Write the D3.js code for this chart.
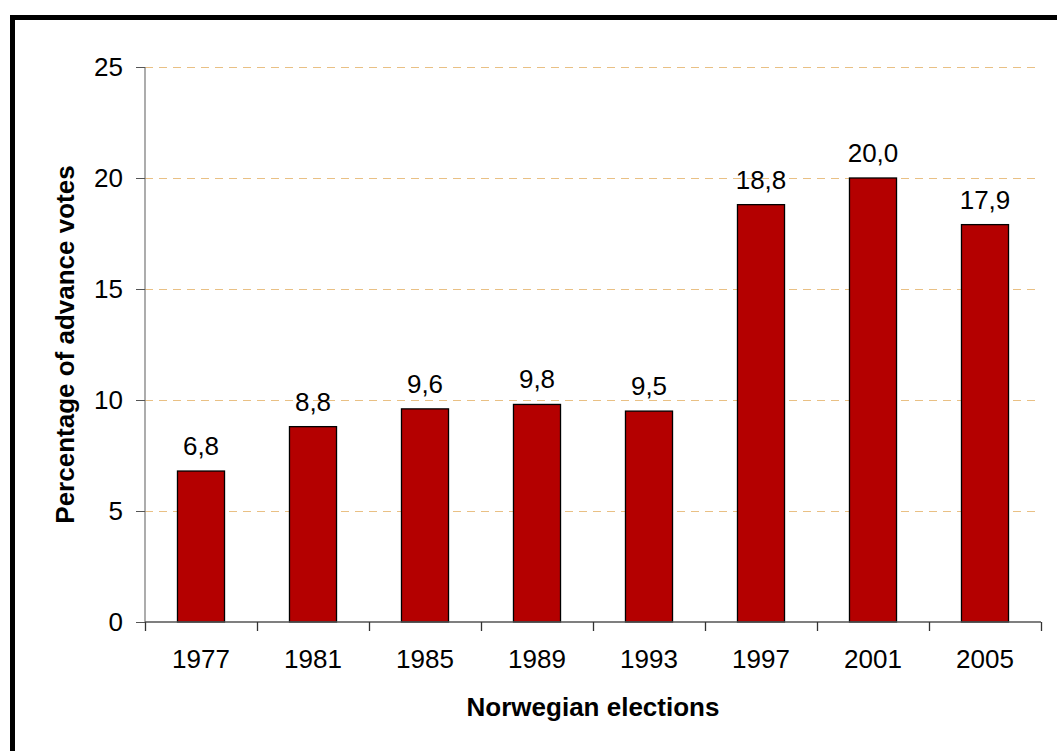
<!DOCTYPE html>
<html><head><meta charset="utf-8">
<script src="https://cdn.jsdelivr.net/npm/d3@7"></script>
<style>html,body{margin:0;padding:0;background:#fff;overflow:hidden}</style>
</head><body>
<script>
const categories = ["1977","1981","1985","1989","1993","1997","2001","2005"];
const values = [6.8, 8.8, 9.6, 9.8, 9.5, 18.8, 20.0, 17.9];
const yTicks = [0, 5, 10, 15, 20, 25];
const xTitle = "Norwegian elections";
const yTitle = "Percentage of advance votes";

const W = 1057, H = 751;
const svg = d3.select("body").append("svg").attr("width", W).attr("height", H);
const font = "'Liberation Sans', Arial, sans-serif";

// outer frame (cropped at right/bottom)
svg.append("rect").attr("x", 12.5).attr("y", 17.5).attr("width", 1100).attr("height", 800)
  .attr("fill", "none").attr("stroke", "#000").attr("stroke-width", 5);

const pL = 145, pR = 1041, pT = 67, pB = 622;
const x = d3.scaleBand().domain(categories).range([pL, pR]).padding(0);
const y = d3.scaleLinear().domain([0, 25]).range([pB, pT]);

// gridlines
svg.append("g").selectAll("line").data(yTicks.filter(d => d > 0)).join("line")
  .attr("x1", pL).attr("x2", pR)
  .attr("y1", d => Math.round(y(d)) + 0.5).attr("y2", d => Math.round(y(d)) + 0.5)
  .attr("stroke", "#e9c084").attr("stroke-width", 1).attr("stroke-dasharray", "8,6");

// bars
const bw = x.bandwidth() * 0.42;
svg.append("g").selectAll("rect").data(values).join("rect")
  .attr("x", (d, i) => x(categories[i]) + (x.bandwidth() - bw) / 2)
  .attr("y", d => y(d))
  .attr("width", bw)
  .attr("height", d => y(0) - y(d))
  .attr("fill", "#b40000").attr("stroke", "#000").attr("stroke-width", 1.3);

// value labels
svg.append("g").selectAll("text").data(values).join("text")
  .attr("x", (d, i) => x(categories[i]) + x.bandwidth() / 2)
  .attr("y", d => y(d) - 16)
  .attr("text-anchor", "middle")
  .style("font-family", font).style("font-size", "26px").attr("fill", "#000")
  .text(d => d.toFixed(1).replace(".", ","));

// y axis
const yAxis = d3.axisLeft(y).tickValues(yTicks).tickSize(9).tickPadding(13).tickFormat(d3.format("d"));
const gy = svg.append("g").attr("transform", `translate(${pL},0)`).call(yAxis);
gy.select(".domain").attr("stroke", "#808080").attr("stroke-width", 1.3).attr("d", `M0,${pT}V${pB}`);
gy.selectAll(".tick line").attr("stroke", "#555");
gy.selectAll(".tick text").style("font-family", font).style("font-size", "26px").attr("fill", "#000");

// x axis
const xAxis = d3.axisBottom(x).tickSize(0).tickPadding(28);
const gx = svg.append("g").attr("transform", `translate(0,${pB})`).call(xAxis);
gx.select(".domain").attr("stroke", "#555").attr("stroke-width", 1.3).attr("d", `M${pL},0H${pR}`);
gx.selectAll(".tick text").style("font-family", font).style("font-size", "26px").attr("fill", "#000").attr("dy", "0.71em");
// category boundary ticks
const bounds = categories.map(c => x(c)).concat([pR]);
gx.append("g").selectAll("line").data(bounds).join("line")
  .attr("x1", d => Math.round(d) + 0.5).attr("x2", d => Math.round(d) + 0.5)
  .attr("y1", 0).attr("y2", 9).attr("stroke", "#333").attr("stroke-width", 1.3);

// titles
svg.append("text").attr("x", (pL + pR) / 2).attr("y", 716)
  .attr("text-anchor", "middle").style("font-family", font).style("font-size", "26px").style("font-weight", "bold")
  .text(xTitle);
svg.append("text").attr("transform", `translate(74,${(pT + pB) / 2}) rotate(-90)`)
  .attr("text-anchor", "middle").style("font-family", font).style("font-size", "26px").style("font-weight", "bold")
  .text(yTitle);
</script>
</body></html>
